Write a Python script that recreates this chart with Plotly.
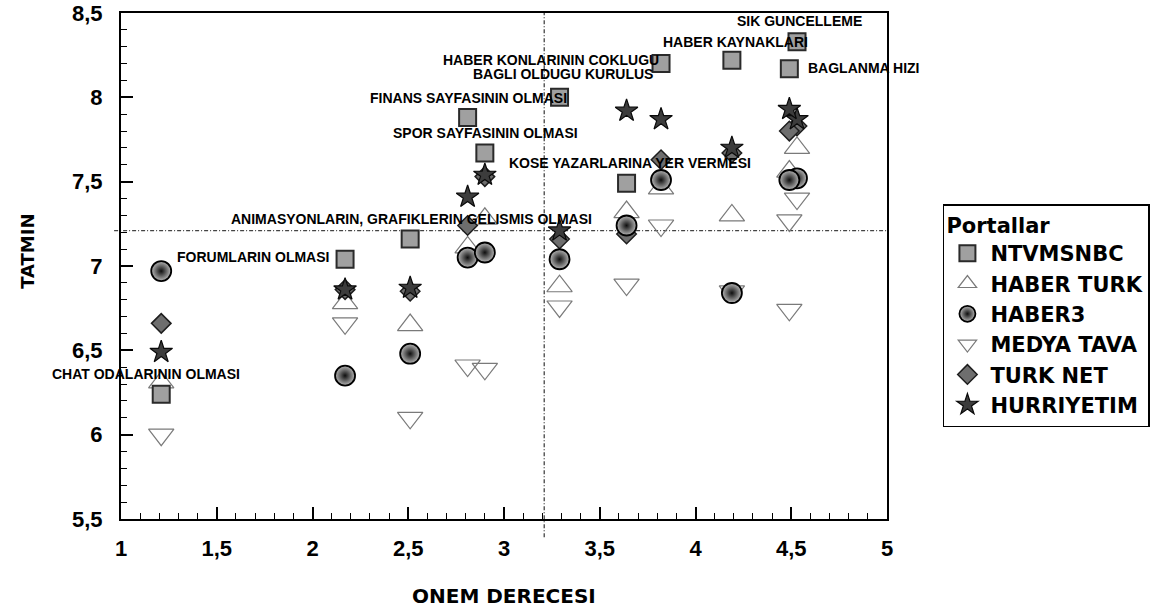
import plotly.graph_objects as go

# ---------------- data ----------------
categories = [
    "CHAT ODALARININ OLMASI", "FORUMLARIN OLMASI",
    "ANIMASYONLARIN, GRAFIKLERIN GELISMIS OLMASI", "FINANS SAYFASININ OLMASI",
    "SPOR SAYFASININ OLMASI", "BAGLI OLDUGU KURULUS", "KOSE YAZARLARINA YER VERMESI",
    "HABER KONLARININ COKLUGU", "HABER KAYNAKLARI", "SIK GUNCELLEME", "BAGLANMA HIZI",
]
onem = [1.21, 2.17, 2.51, 2.81, 2.90, 3.29, 3.64, 3.82, 4.19, 4.53, 4.49]

ntvmsnbc   = [6.24, 7.04, 7.16, 7.88, 7.67, 8.00, 7.49, 8.20, 8.22, 8.33, 8.17]
haber_turk = [6.31, 6.78, 6.65, 7.11, 7.28, 6.88, 7.32, 7.46, 7.30, 7.70, 7.56]
haber3     = [6.97, 6.35, 6.48, 7.05, 7.08, 7.04, 7.24, 7.51, 6.84, 7.52, 7.51]
medya_tava = [6.00, 6.66, 6.10, 6.41, 6.39, 6.76, 6.89, 7.24, 6.85, 7.40, 7.27]
medya_extra_x = [4.49]
medya_extra_y = [6.74]
turk_net   = [6.66, 6.86, 6.85, 7.24, 7.53, 7.16, 7.19, 7.63, 7.67, 7.83, 7.80]
hurriyetim = [6.49, 6.86, 6.87, 7.41, 7.54, 7.21, 7.92, 7.87, 7.70, 7.87, 7.93]

ref_x = 3.21   # mean importance line
ref_y = 7.21   # mean satisfaction line

x_range = [1, 5]
y_range = [5.5, 8.5]

FONT_A = "Liberation Sans, Arial, sans-serif"
FONT_W = "DejaVu Sans, Liberation Sans, Arial, sans-serif"

# label placement (pixels relative to the NTVMSNBC point): (xshift, yshift, xanchor)
label_pos = [
    (-15, 20, "center"), (-14, 2, "right"), (1, 20, "center"), (1, 20, "center"),
    (1, 20, "center"), (3, 23, "center"), (3, 20, "center"), (0, 4, "right"),
    (-71, 18, "left"), (-62, 21, "left"), (17, 1, "left"),
]

fig = go.Figure()

fig.add_trace(go.Scatter(
    x=onem, y=haber_turk, mode="markers", name="HABER TURK", legendrank=2,
    marker=dict(symbol="triangle-up-open", size=22, color="#7a7a7a",
                line=dict(width=1.2)),
))
fig.add_trace(go.Scatter(
    x=onem + medya_extra_x, y=medya_tava + medya_extra_y, mode="markers",
    name="MEDYA TAVA", legendrank=4,
    marker=dict(symbol="triangle-down-open", size=22, color="#7a7a7a",
                line=dict(width=1.2)),
))
fig.add_trace(go.Scatter(
    x=onem, y=turk_net, mode="markers", name="TURK NET", legendrank=5,
    marker=dict(symbol="diamond", size=15, color="#6e6e6e",
                line=dict(color="#1e1e1e", width=1.5)),
))
fig.add_trace(go.Scatter(
    x=onem, y=haber3, mode="markers", name="HABER3", legendrank=3,
    marker=dict(symbol="circle", size=20, color="#b8b8b8",
                gradient=dict(type="radial", color="#0e0e0e"),
                line=dict(color="#000000", width=1.8)),
))
fig.add_trace(go.Scatter(
    x=onem, y=ntvmsnbc, mode="markers", name="NTVMSNBC", legendrank=1,
    marker=dict(symbol="square", size=17, color="#a0a0a0",
                line=dict(color="#2a2a2a", width=2)),
))
fig.add_trace(go.Scatter(
    x=onem, y=hurriyetim, mode="markers", name="HURRIYETIM", legendrank=6,
    marker=dict(symbol="star", size=17, color="#3c3c3c",
                line=dict(color="#0a0a0a", width=1.2)),
))

annotations = []
for cat, xv, yv, (dx, dy, anc) in zip(categories, onem, ntvmsnbc, label_pos):
    annotations.append(dict(
        x=xv, y=yv, xref="x", yref="y", text=cat, showarrow=False,
        xanchor=anc, yanchor="middle", xshift=dx, yshift=dy,
        font=dict(family=FONT_A, size=14, color="black", weight="bold"),
    ))

# axis titles
annotations.append(dict(
    x=0.5, y=-0.152, xref="paper", yref="paper", text="ONEM DERECESI",
    showarrow=False, xanchor="center", yanchor="middle",
    font=dict(family=FONT_W, size=20, color="black", weight="bold"),
))
annotations.append(dict(
    x=-0.1214, y=0.528, xref="paper", yref="paper", text="TATMIN",
    showarrow=False, xanchor="center", yanchor="middle", textangle=-90,
    font=dict(family=FONT_W, size=18, color="black", weight="bold"),
))

px_ref_x = (ref_x - x_range[0]) / (x_range[1] - x_range[0])
px_ref_y = (ref_y - y_range[0]) / (y_range[1] - y_range[0])
dash = "4px,2px,1px,2px"
shapes = [
    dict(type="line", xref="paper", yref="paper", x0=-0.009, x1=1.0,
         y0=px_ref_y, y1=px_ref_y, line=dict(color="#444444", width=1.3, dash=dash),
         layer="below"),
    dict(type="line", xref="paper", yref="paper", x0=px_ref_x, x1=px_ref_x,
         y0=-0.036, y1=1.0, line=dict(color="#444444", width=1.3, dash=dash),
         layer="below"),
]

axis_common = dict(
    showgrid=False, zeroline=False, showline=True, linecolor="black",
    linewidth=2, mirror=True, ticks="inside", ticklen=12, tickwidth=1.5,
    tickcolor="black", automargin=False,
    tickfont=dict(family=FONT_A, size=22, color="black", weight="bold"),
)

fig.update_layout(
    width=1166, height=613,
    margin=dict(l=121, r=279, t=13, b=94, autoexpand=False),
    paper_bgcolor="white", plot_bgcolor="white",
    separators=", ",
    showlegend=True,
    legend=dict(
        x=1.073, y=0.622, xanchor="left", yanchor="top",
        bordercolor="black", borderwidth=1.5, bgcolor="white",
        itemwidth=36,
        title=dict(text="Portallar",
                   font=dict(family=FONT_W, size=21, color="black", weight="bold")),
        font=dict(family=FONT_W, size=21, color="black", weight="bold"),
        tracegroupgap=0,
    ),
    xaxis=dict(range=x_range, tick0=1, dtick=0.5, ticklabelstandoff=9,
               minor=dict(dtick=0.1, ticks="inside", ticklen=6, tickcolor="black",
                          tickwidth=1),
               **axis_common),
    yaxis=dict(range=y_range, tick0=5.5, dtick=0.5, ticklabelstandoff=12,
               minor=dict(dtick=0.1, ticks="inside", ticklen=6, tickcolor="black",
                          tickwidth=1),
               **axis_common),
    annotations=annotations,
    shapes=shapes,
)

fig.write_html("out.html")
